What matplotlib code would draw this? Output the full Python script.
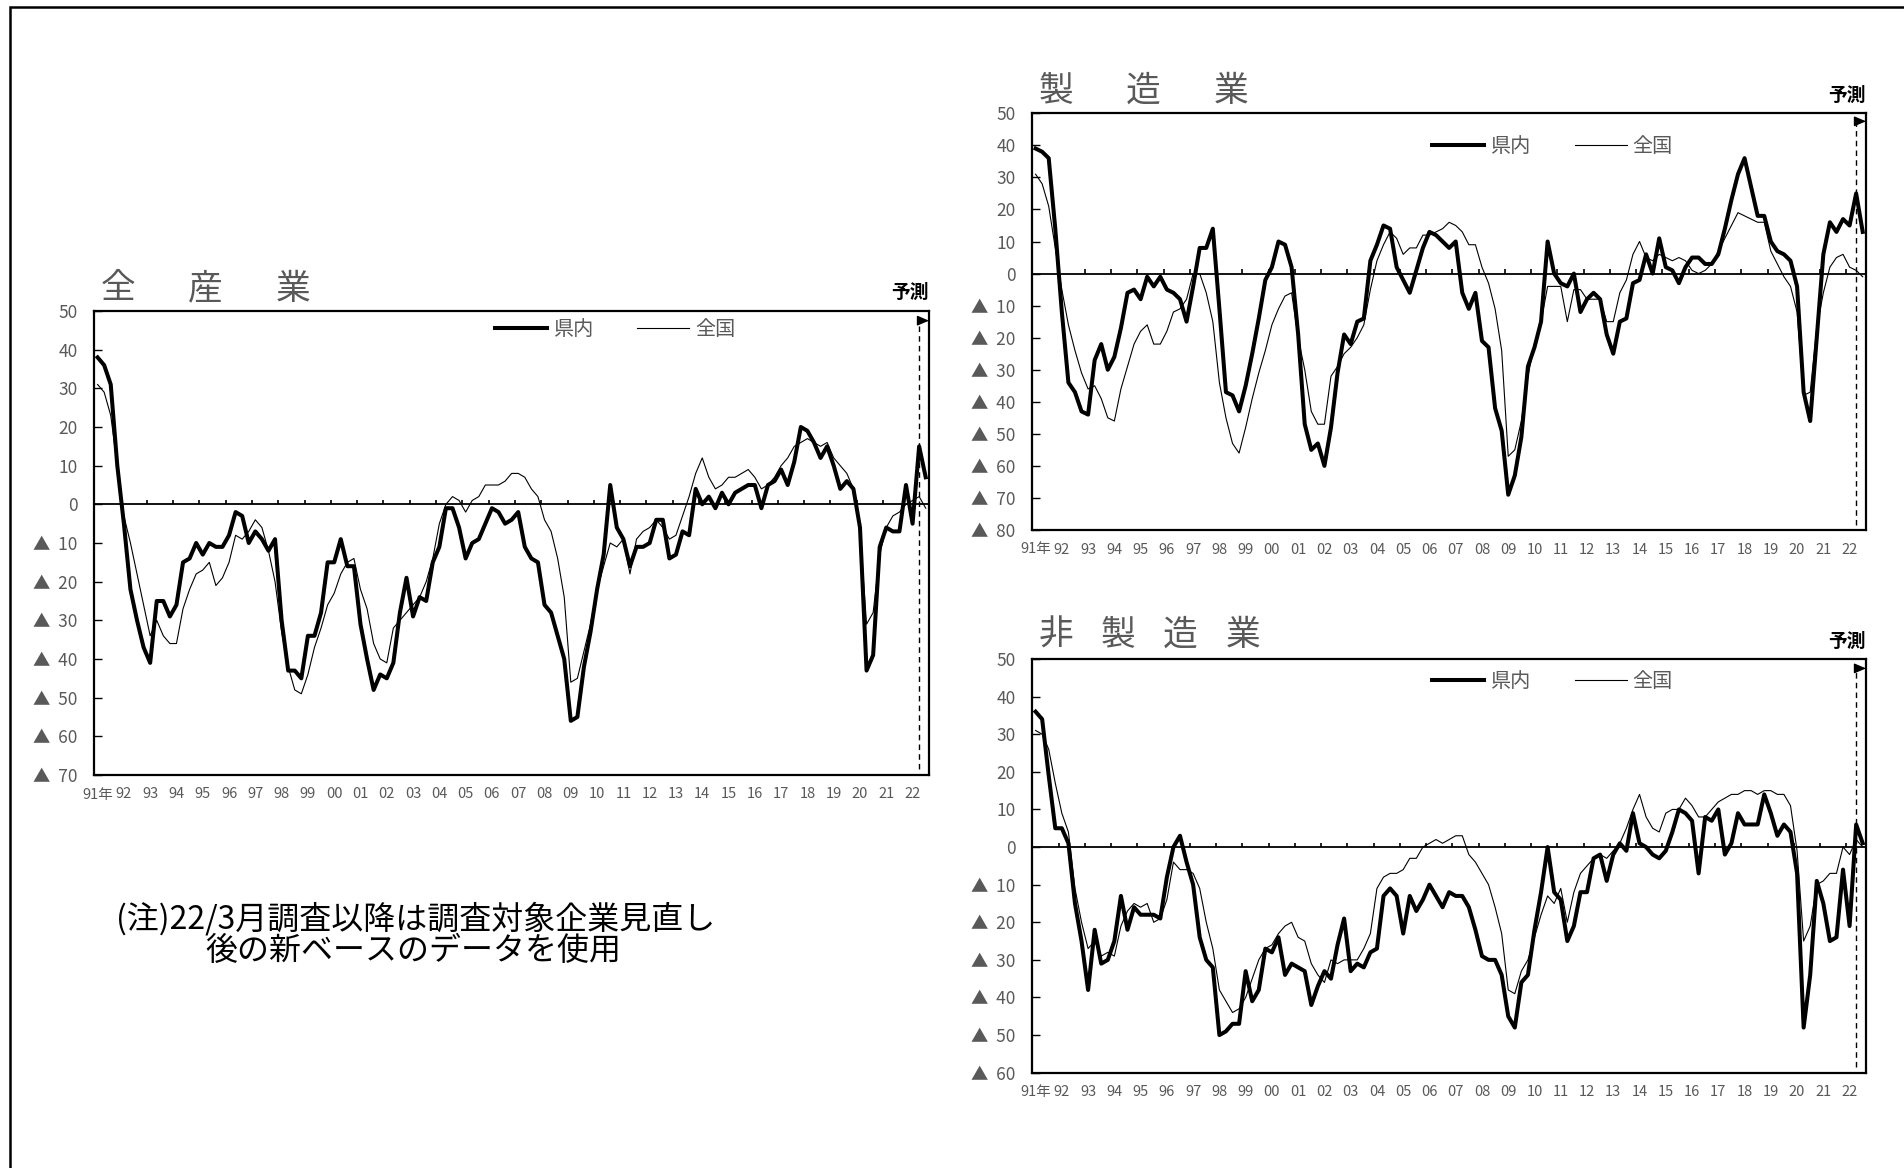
# Business survey DI charts (全産業 / 製造業 / 非製造業), 県内 vs 全国

import numpy as np
import matplotlib.pyplot as plt

plt.rcParams['font.family'] = ['Noto Sans CJK JP', 'DejaVu Sans']

W, H = 1904, 1168
GRAY = "#595959"

years = list(range(1991, 2023))
year_labels = ["91年"] + [f"{y % 100:02d}" for y in years[1:]]
series_names = ["県内", "全国"]
forecast_label = "予測"

# quarterly DI, 1991 ... 2022 (last point = forecast)
all_pref = [38, 36, 31, 10, -5, -22, -30, -37, -41, -25, -25, -29, -26, -15, -14, -10,
            -13, -10, -11, -11, -8, -2, -3, -10, -7, -9, -12, -9, -30, -43, -43, -45,
            -34, -34, -28, -15, -15, -9, -16, -16, -31, -40, -48, -44, -45, -41, -28, -19,
            -29, -24, -25, -15, -11, -1, -1, -6, -14, -10, -9, -5, -1, -2, -5, -4,
            -2, -11, -14, -15, -26, -28, -34, -40, -56, -55, -42, -33, -22, -13, 5, -6,
            -9, -16, -11, -11, -10, -4, -4, -14, -13, -7, -8, 4, 0, 2, -1, 3,
            0, 3, 4, 5, 5, -1, 5, 6, 9, 5, 11, 20, 19, 16, 12, 15,
            10, 4, 6, 4, -6, -43, -39, -11, -6, -7, -7, 5, -5, 15, 7]
all_nat = [31, 29, 23, 10, -3, -10, -18, -26, -34, -30, -34, -36, -36, -27, -22, -18,
           -17, -15, -21, -19, -15, -8, -9, -7, -4, -6, -12, -20, -33, -42, -48, -49,
           -44, -37, -32, -26, -23, -18, -15, -14, -22, -27, -36, -40, -41, -32, -30, -28,
           -26, -24, -20, -14, -5, 0, 2, 1, -2, 1, 2, 5, 5, 5, 6, 8,
           8, 7, 4, 2, -4, -7, -14, -24, -46, -45, -38, -31, -22, -16, -10, -11,
           -9, -18, -9, -7, -6, -4, -6, -9, -8, -3, 2, 8, 12, 7, 4, 5,
           7, 7, 8, 9, 7, 4, 5, 7, 10, 12, 15, 16, 17, 16, 15, 16,
           12, 10, 8, 4, -7, -31, -28, -13, -6, -3, -2, 0, 1, 2, -1]

mfg_pref = [39, 38, 36, 14, -12, -34, -37, -43, -44, -27, -22, -30, -26, -17, -6, -5,
            -8, -1, -4, -1, -5, -6, -8, -15, -4, 8, 8, 14, -11, -37, -38, -43,
            -35, -25, -14, -2, 2, 10, 9, 2, -19, -47, -55, -53, -60, -48, -31, -19,
            -22, -15, -14, 4, 9, 15, 14, 2, -2, -6, 1, 8, 13, 12, 10, 8,
            10, -6, -11, -6, -21, -23, -42, -49, -69, -63, -51, -29, -23, -15, 10, 0,
            -3, -4, 0, -12, -8, -6, -8, -19, -25, -15, -14, -3, -2, 6, 0, 11,
            2, 1, -3, 2, 5, 5, 3, 3, 6, 14, 23, 31, 36, 27, 18, 18,
            10, 7, 6, 4, -4, -37, -46, -20, 6, 16, 13, 17, 15, 25, 13]
mfg_nat = [31, 28, 21, 8, -5, -16, -24, -31, -36, -35, -39, -45, -46, -36, -29, -22,
           -18, -16, -22, -22, -18, -12, -11, -8, 0, 0, -6, -15, -34, -45, -53, -56,
           -48, -39, -31, -24, -16, -11, -7, -6, -20, -30, -43, -47, -47, -32, -29, -25,
           -23, -20, -16, -5, 4, 9, 13, 11, 6, 8, 8, 12, 12, 13, 14, 16,
           15, 13, 9, 9, 2, -3, -11, -24, -57, -55, -46, -32, -22, -15, -4, -4,
           -4, -15, -5, -5, -8, -8, -8, -15, -15, -6, -2, 6, 10, 5, 4, 6,
           5, 4, 5, 4, 1, 0, 1, 3, 7, 11, 15, 19, 18, 17, 16, 16,
           7, 3, -1, -4, -12, -38, -37, -17, -6, 2, 5, 6, 2, 1, -1]

nonmfg_pref = [36, 34, 19, 5, 5, 1, -15, -25, -38, -22, -31, -30, -25, -13, -22, -16,
               -18, -18, -18, -19, -8, 0, 3, -4, -10, -24, -30, -32, -50, -49, -47, -47,
               -33, -41, -38, -27, -28, -24, -34, -31, -32, -33, -42, -37, -33, -35, -26, -19,
               -33, -31, -32, -28, -27, -13, -11, -13, -23, -13, -17, -14, -10, -13, -16, -12,
               -13, -13, -16, -22, -29, -30, -30, -34, -45, -48, -36, -34, -22, -12, 0, -12,
               -14, -25, -21, -12, -12, -3, -2, -9, -2, 1, -1, 9, 1, 0, -2, -3,
               -1, 4, 10, 9, 7, -7, 8, 7, 10, -2, 1, 9, 6, 6, 6, 14,
               9, 3, 6, 4, -7, -48, -34, -9, -15, -25, -24, -6, -21, 6, 1]
nonmfg_nat = [31, 30, 26, 17, 9, 4, -11, -20, -27, -25, -29, -28, -29, -21, -17, -15,
              -16, -15, -20, -19, -14, -4, -6, -6, -7, -11, -20, -27, -38, -41, -44, -43,
              -40, -35, -30, -27, -26, -23, -21, -20, -24, -25, -31, -34, -36, -30, -31, -30,
              -30, -30, -27, -23, -11, -8, -7, -7, -6, -3, -3, 0, 1, 2, 1, 2,
              3, 3, -2, -4, -7, -10, -16, -23, -38, -39, -33, -30, -24, -18, -13, -15,
              -11, -20, -12, -7, -5, -3, -2, -3, -1, 1, 5, 10, 14, 8, 5, 4,
              9, 10, 10, 13, 11, 8, 8, 10, 12, 13, 14, 14, 15, 15, 14, 15,
              15, 14, 14, 11, -1, -25, -21, -10, -9, -7, -7, 0, -2, 2, 0]


def fx(px):
    return px / W


def fy(py):
    return 1 - py / H


def ytick_text(v):
    if v < 0:
        return f"▲  {-v}"
    return str(v)


def draw_panel(box, pref, nat, ylo, title, title_pos, legend_y):
    left, top, right, bottom = box
    ax = fig.add_axes([fx(left), fy(bottom), fx(right) - fx(left), (bottom - top) / H])
    n = len(pref)
    x = np.arange(n) + 0.5
    ax.plot(x, pref, color="black", lw=2.9, label=series_names[0], zorder=4)
    ax.plot(x, nat, color="black", lw=0.8, label=series_names[1], zorder=3)
    ax.set_xlim(0, n)
    ax.set_ylim(ylo, 50)

    # zero line with year ticks on it
    ax.axhline(0, color="black", lw=1.3, zorder=2)
    px_per_unit = (bottom - top) / (50 - ylo)
    ax.vlines(np.arange(4, n, 4), 0, 4.5 / px_per_unit, color="black", lw=1.2, zorder=2)

    yt = list(range(ylo, 51, 10))
    ax.set_yticks(yt)
    ax.set_yticklabels([ytick_text(v) for v in yt])
    ax.tick_params(axis="y", direction="in", length=6, width=1, pad=12,
                   labelsize=12.5, labelcolor=GRAY)
    ax.set_xticks(np.arange(0, n, 4) + 0.5)
    ax.set_xticklabels(year_labels)
    ax.tick_params(axis="x", length=0, pad=9, labelsize=10.5, labelcolor=GRAY)
    for s in ax.spines.values():
        s.set_linewidth(1.6)

    # forecast marker
    fpos = n - 1.5
    ax.vlines(fpos, ylo + 1.5, 47.5, color="black", lw=1, linestyles=(0, (4, 3)), zorder=5)
    ax.annotate("", xy=(n, 47.5), xytext=(fpos, 47.5), annotation_clip=False,
                arrowprops=dict(arrowstyle="-|>,head_length=0.7,head_width=0.3",
                                color="black", lw=1, shrinkA=0, shrinkB=0))
    ax.text(1.0, 1.02, forecast_label, transform=ax.transAxes, ha="right", va="bottom",
            fontsize=13.5, fontweight="bold", color="black")

    # spaced-out title, one character at a time
    x0, y0, step = title_pos
    for k, ch in enumerate(title):
        fig.text(fx(x0 + k * step), fy(y0), ch, ha="center", va="center",
                 fontsize=25, color=GRAY)

    ax.legend(loc="center left", bbox_to_anchor=(0.48, legend_y), ncol=2, frameon=False,
              fontsize=14.5, labelcolor=GRAY, handlelength=2.57, handletextpad=0.3,
              columnspacing=2.2, borderpad=0, borderaxespad=0)
    return ax


fig = plt.figure(figsize=(W / 100, H / 100), dpi=100)

# outer frame (only top and left edges are inside the picture)
fig.patches.append(plt.Rectangle((fx(10), fy(1300)), 2000 / W, 1293 / H, fill=False,
                                 lw=1.8, edgecolor="black", transform=fig.transFigure))

draw_panel((94.3, 311, 929, 775), all_pref, all_nat, -70, "全産業",
           (118, 289, 87.5), 0.961)
draw_panel((1032.3, 113.3, 1866, 530), mfg_pref, mfg_nat, -80, "製造業",
           (1056, 91, 87.5), 0.92)
draw_panel((1032.3, 659, 1866, 1072.7), nonmfg_pref, nonmfg_nat, -60, "非製造業",
           (1056, 635, 62.2), 0.945)

fig.text(fx(416), fy(919), "(注)22/3月調査以降は調査対象企業見直し", ha="center", va="center",
         fontsize=23, color="black")
fig.text(fx(413), fy(951), "後の新ベースのデータを使用", ha="center", va="center",
         fontsize=23, color="black")

fig.savefig("out.png", dpi=100)
